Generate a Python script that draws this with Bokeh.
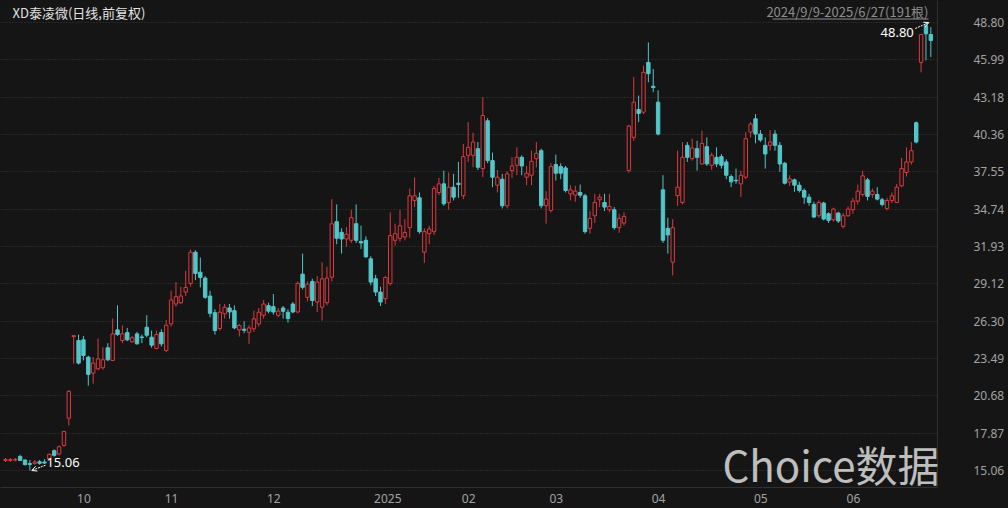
import numpy as np
from bokeh.plotting import figure
from bokeh.models import (ColumnDataSource, FixedTicker, PrintfTickFormatter, Label,
                          Arrow, OpenHead, BoxAnnotation, Range1d, GlobalInlineStyleSheet)
from bokeh.embed import file_html
from bokeh.resources import INLINE

# ---------------- data ----------------
title_text = "XD泰凌微(日线,前复权)"
range_text = "2024/9/9-2025/6/27(191根)"

opens = [15.82, 15.82, 15.85, 16.12, 15.85, 15.58, 15.60, 15.72, 15.70, 15.95,
         16.55, 16.30, 16.95, 19.00, 25.15, 24.85, 24.90, 23.60, 22.40, 22.72,
         22.80, 24.30, 23.35, 25.65, 24.85, 25.45, 24.75, 25.35, 25.12, 25.85,
         25.10, 24.25, 25.45, 24.10, 26.10, 27.60, 27.70, 28.50, 29.15, 31.50,
         30.00, 29.55, 28.20, 26.95, 25.75, 26.86, 27.30, 27.10, 25.65, 25.70,
         25.47, 25.73, 26.10, 26.75, 27.48, 27.40, 26.75, 27.30, 26.98, 27.60,
         27.00, 29.85, 28.10, 29.30, 27.75, 27.36, 27.70, 29.62, 33.80, 33.00,
         32.50, 32.40, 33.65, 32.30, 32.40, 31.00, 29.50, 28.50, 28.00, 29.15,
         32.40, 32.55, 32.65, 33.35, 35.40, 35.60, 31.50, 32.90, 33.05, 36.00,
         36.65, 35.25, 36.40, 36.70, 35.75, 38.80, 38.80, 39.30, 37.80, 41.40,
         38.40, 36.55, 37.00, 35.00, 37.65, 38.05, 38.65, 37.15, 37.30, 38.55,
         39.15, 35.00, 34.65, 38.10, 37.95, 37.85, 35.90, 35.80, 36.00, 35.75,
         33.30, 34.25, 35.45, 35.25, 34.70, 34.70, 33.35, 33.70, 37.65, 40.15,
         42.25, 42.05, 45.80, 44.00, 42.80, 36.20, 33.30, 30.75, 35.77, 35.25,
         39.55, 38.55, 39.30, 38.15, 39.45, 38.05, 38.65, 38.70, 38.30, 37.20,
         36.92, 36.65, 37.15, 40.55, 41.55, 40.40, 39.55, 39.55, 40.40, 39.55,
         38.20, 36.78, 36.95, 36.55, 36.15, 35.65, 35.10, 34.25, 35.20, 34.40,
         33.95, 34.45, 33.45, 34.25, 34.70, 35.35, 35.85, 36.95, 35.85, 35.85,
         35.45, 34.80, 35.40, 35.25, 36.50, 37.50, 38.30, 41.25, 45.80, 48.55,
         47.90]
highs = [16.00, 16.00, 16.00, 16.25, 15.90, 15.85, 15.85, 15.85, 15.90, 16.35,
         16.65, 16.95, 18.05, 21.10, 25.22, 25.30, 25.20, 23.70, 23.60, 25.00,
         24.35, 24.65, 26.50, 27.50, 26.00, 25.80, 25.20, 25.50, 25.30, 26.75,
         25.60, 25.60, 25.70, 26.40, 28.60, 29.25, 28.90, 30.10, 31.70, 31.65,
         31.10, 29.70, 28.60, 27.20, 27.60, 27.60, 27.60, 27.50, 26.10, 26.30,
         26.00, 27.10, 27.30, 27.90, 27.70, 28.35, 27.30, 27.45, 27.20, 27.75,
         29.30, 31.40, 29.30, 29.50, 29.70, 30.75, 30.40, 35.50, 35.10, 33.30,
         33.40, 34.70, 35.10, 33.50, 32.70, 31.20, 29.80, 28.90, 29.70, 34.50,
         33.65, 34.70, 34.00, 36.30, 37.15, 36.00, 33.30, 33.50, 36.50, 37.10,
         37.65, 37.50, 37.40, 38.30, 39.65, 41.30, 40.50, 39.80, 43.18, 41.60,
         39.00, 37.70, 37.40, 37.60, 38.65, 39.40, 38.80, 38.00, 39.15, 39.80,
         39.30, 36.10, 38.20, 38.85, 38.20, 38.00, 36.55, 36.50, 36.60, 35.90,
         34.60, 35.90, 35.90, 35.90, 35.90, 34.90, 34.40, 34.50, 41.10, 44.70,
         43.30, 45.55, 47.30, 45.30, 43.70, 37.30, 34.10, 34.00, 39.15, 39.80,
         39.80, 40.05, 39.90, 40.65, 40.15, 39.00, 39.40, 38.90, 38.50, 37.35,
         37.80, 37.65, 40.55, 41.30, 41.90, 40.70, 40.15, 40.70, 40.70, 39.80,
         38.30, 37.30, 37.05, 36.80, 36.30, 35.90, 35.30, 35.40, 35.30, 34.50,
         34.85, 34.55, 34.45, 34.95, 35.60, 36.60, 37.65, 37.10, 36.30, 36.40,
         35.60, 35.60, 36.00, 36.65, 38.60, 39.40, 39.80, 41.35, 47.95, 48.80,
         48.45]
lows = [15.70, 15.72, 15.75, 15.78, 15.45, 15.06, 15.50, 15.50, 15.55, 15.90,
        16.10, 16.20, 16.85, 18.45, 23.10, 23.05, 23.35, 21.45, 21.60, 22.60,
        22.65, 23.30, 23.30, 25.20, 24.65, 24.80, 24.70, 24.55, 24.65, 25.10,
        24.30, 24.20, 24.40, 24.00, 25.90, 27.40, 27.60, 28.20, 28.90, 29.40,
        28.85, 28.00, 26.60, 25.30, 25.60, 26.50, 26.50, 25.70, 25.15, 25.40,
        24.60, 25.50, 25.90, 26.50, 26.90, 26.80, 26.60, 26.50, 26.20, 26.90,
        26.90, 28.70, 27.80, 27.45, 27.00, 26.35, 27.50, 29.30, 32.10, 31.40,
        31.90, 32.20, 32.20, 31.75, 31.10, 29.00, 28.20, 27.45, 27.60, 29.00,
        32.00, 32.30, 32.40, 32.60, 34.90, 32.90, 30.70, 32.10, 32.80, 35.80,
        35.00, 34.70, 35.40, 35.60, 35.50, 38.30, 37.90, 37.70, 37.15, 38.20,
        36.40, 36.00, 34.80, 34.80, 37.10, 37.30, 37.30, 36.55, 36.55, 37.90,
        34.80, 33.65, 34.50, 36.90, 37.00, 36.00, 35.40, 35.30, 35.60, 32.90,
        32.90, 33.70, 34.90, 34.60, 34.50, 33.20, 32.95, 33.50, 37.50, 39.90,
        41.30, 41.90, 44.30, 43.55, 40.30, 32.20, 31.40, 29.75, 35.00, 35.10,
        38.30, 38.40, 37.65, 38.10, 38.00, 37.70, 37.90, 37.80, 37.00, 36.40,
        36.65, 35.65, 37.00, 40.15, 39.70, 39.80, 37.80, 39.15, 39.15, 37.55,
        36.60, 36.50, 36.05, 36.00, 35.15, 35.00, 34.10, 34.10, 33.90, 33.70,
        33.80, 33.70, 33.30, 34.15, 34.40, 35.10, 35.70, 35.40, 35.60, 35.40,
        34.95, 34.65, 35.20, 35.20, 36.40, 37.20, 38.10, 39.70, 45.05, 45.95,
        46.20]
closes = [15.90, 15.88, 15.90, 15.82, 15.50, 15.52, 15.70, 15.60, 15.62, 16.28,
          16.20, 16.85, 18.00, 21.02, 25.22, 23.15, 23.72, 22.30, 23.15, 23.47,
          23.40, 23.40, 25.35, 25.30, 25.35, 24.90, 25.05, 24.60, 25.08, 25.25,
          24.50, 25.30, 24.60, 26.00, 27.90, 28.15, 28.20, 28.85, 31.50, 29.90,
          29.60, 28.10, 26.90, 25.60, 26.98, 27.36, 27.00, 25.80, 25.98, 25.62,
          25.80, 26.48, 26.98, 27.60, 27.06, 27.00, 27.06, 27.05, 26.50, 27.00,
          29.15, 28.86, 29.10, 27.86, 29.25, 29.50, 29.55, 33.64, 32.55, 32.50,
          32.85, 34.10, 32.40, 32.20, 31.15, 29.25, 28.50, 27.75, 29.60, 32.75,
          32.90, 33.50, 32.98, 35.75, 35.75, 33.05, 33.05, 33.25, 36.30, 36.65,
          35.15, 36.40, 35.65, 36.60, 38.70, 39.40, 39.80, 37.90, 41.80, 38.40,
          37.15, 37.15, 35.00, 37.40, 38.00, 38.65, 38.00, 37.45, 38.35, 38.95,
          35.00, 35.50, 37.95, 37.45, 37.45, 36.15, 36.20, 36.10, 35.80, 33.05,
          34.05, 35.25, 35.65, 34.90, 34.95, 33.35, 34.05, 34.20, 41.00, 42.80,
          41.95, 45.05, 44.95, 43.90, 40.40, 32.40, 32.80, 33.35, 36.40, 38.65,
          38.65, 39.35, 38.65, 39.70, 38.15, 38.80, 38.15, 38.05, 37.30, 36.80,
          36.88, 37.30, 40.05, 41.15, 40.40, 39.95, 38.90, 39.80, 39.55, 38.15,
          36.70, 37.03, 36.55, 36.15, 35.65, 35.25, 34.15, 35.25, 34.00, 33.90,
          34.75, 33.85, 34.25, 34.75, 35.35, 36.10, 37.25, 35.70, 36.10, 35.50,
          35.10, 35.40, 35.75, 36.40, 37.80, 38.30, 39.15, 39.80, 47.90, 47.95,
          47.45]

# month labels and the bar index of each month's first trading day
month_labels = ["10", "11", "12", "2025", "02", "03", "04", "05", "06"]
month_first_bar = [14, 32, 53, 75, 93, 111, 132, 153, 172]

# price axis tick labels
price_ticks = [15.06, 17.87, 20.68, 23.49, 26.30, 29.12, 31.93, 34.74,
               37.55, 40.36, 43.18, 45.99, 48.80]

# ---------------- styles ----------------
BG = "#151515"
RED = "#dc3a3f"
CYAN = "#52c6c9"
AXIS_TXT = "#a3a3a3"
LINE = "#303030"

o = np.array(opens); h = np.array(highs); l = np.array(lows); c = np.array(closes)
idx = np.arange(len(o))
up = c >= o
dn = ~up

p = figure(width=1008, height=508,
           x_range=Range1d(-1.03, 191.37), y_range=Range1d(13.78, 50.46),
           y_axis_location="right", output_backend="svg", toolbar_location=None,
           background_fill_color=BG, border_fill_color=BG, outline_line_color=None,
           min_border_left=0, min_border_top=0, min_border_right=71, min_border_bottom=21)
p.stylesheets = [GlobalInlineStyleSheet(css="html,body{margin:0;padding:0;background:#151515;overflow:hidden;}")]

# grid
p.xgrid.visible = False
p.ygrid.ticker = FixedTicker(ticks=price_ticks)
p.ygrid.grid_line_color = "#3a3a3a"
p.ygrid.grid_line_dash = "1 2"
p.ygrid.grid_line_width = 1

# y axis (right)
ya = p.yaxis[0]
ya.ticker = FixedTicker(ticks=price_ticks)
ya.formatter = PrintfTickFormatter(format="%.2f")
ya.major_tick_out = 0
ya.major_tick_in = 0
ya.minor_tick_out = 0
ya.minor_tick_in = 0
ya.axis_line_color = LINE
ya.major_label_text_color = AXIS_TXT
ya.major_label_text_font = "Noto Sans"
ya.major_label_text_font_size = "12px"
ya.major_label_standoff = 36

# x axis (bottom) : labels sit just right of the month's first bar
pitch_px = 4.87
tick_pos = [round(b + (3 + 3.5 * len(s)) / pitch_px, 1) for b, s in zip(month_first_bar, month_labels)]
xa = p.xaxis[0]
xa.ticker = FixedTicker(ticks=tick_pos)
xa.major_label_overrides = {t: s for t, s in zip(tick_pos, month_labels)}
xa.major_tick_out = 0
xa.major_tick_in = 0
xa.minor_tick_out = 0
xa.minor_tick_in = 0
xa.axis_line_color = LINE
xa.major_label_text_color = AXIS_TXT
xa.major_label_text_font = "Noto Sans"
xa.major_label_text_font_size = "12px"
xa.major_label_standoff = 6

# candles
src_up = ColumnDataSource(dict(x=idx[up], hi=h[up], lo=l[up], top=c[up], bot=o[up]))
src_dn = ColumnDataSource(dict(x=idx[dn], hi=h[dn], lo=l[dn], top=o[dn], bot=c[dn]))
p.segment(x0="x", y0="hi", x1="x", y1="lo", line_color=RED, line_width=1, source=src_up)
p.vbar(x="x", width=0.7, top="top", bottom="bot", fill_color=BG, line_color=RED,
       line_width=1, source=src_up)
p.segment(x0="x", y0="hi", x1="x", y1="lo", line_color=CYAN, line_width=1, source=src_dn)
p.vbar(x="x", width=0.7, top="top", bottom="bot", fill_color=CYAN, line_color=CYAN,
       line_width=1, source=src_dn)

# max / min annotations
imax = int(np.argmax(h)); imin = int(np.argmin(l))
p.add_layout(Arrow(end=OpenHead(size=5, line_color="white", line_width=1),
                   x_start=imax - 2.2, y_start=h[imax] - 0.45, x_end=imax + 0.6, y_end=h[imax],
                   line_color="white", line_width=1, line_dash="2 1"))
p.add_layout(Label(x=imax - 2.5, y=h[imax] - 0.75, text=f"{h[imax]:.2f}", text_align="right",
                   text_baseline="middle", text_color="white", text_font="Noto Sans",
                   text_font_size="13px"))
p.add_layout(Arrow(end=OpenHead(size=5, line_color="white", line_width=1),
                   x_start=imin + 3.2, y_start=l[imin] + 0.4, x_end=imin + 0.4, y_end=l[imin],
                   line_color="white", line_width=1, line_dash="2 1"))
p.add_layout(Label(x=imin + 3.4, y=l[imin] + 0.6, text=f"{l[imin]:.2f}", text_align="left",
                   text_baseline="middle", text_color="white", text_font="Noto Sans",
                   text_font_size="13px"))

# header texts
p.add_layout(Label(x=12, y=475, x_units="screen", y_units="screen", text=title_text,
                   text_baseline="middle", text_color="#e2e2e2",
                   text_font="Noto Sans CJK SC", text_font_size="13px"))
p.add_layout(Label(x=928, y=476, x_units="screen", y_units="screen", text=range_text,
                   text_align="right", text_baseline="middle", text_color="#8e8e8e",
                   text_font="Noto Sans CJK SC", text_font_size="13px"))
p.add_layout(BoxAnnotation(left=772, right=928, bottom=468, top=469,
                           left_units="screen", right_units="screen",
                           bottom_units="screen", top_units="screen",
                           fill_color="#8e8e8e", fill_alpha=1, line_color=None))

# watermark
p.add_layout(Label(x=722, y=24, x_units="screen", y_units="screen", text="Choice数据",
                   text_baseline="middle", text_color="#e6e6e6", text_alpha=0.82,
                   text_font="Noto Sans CJK SC", text_font_size="42px"))

open("out.html", "w").write(file_html(p, INLINE))
